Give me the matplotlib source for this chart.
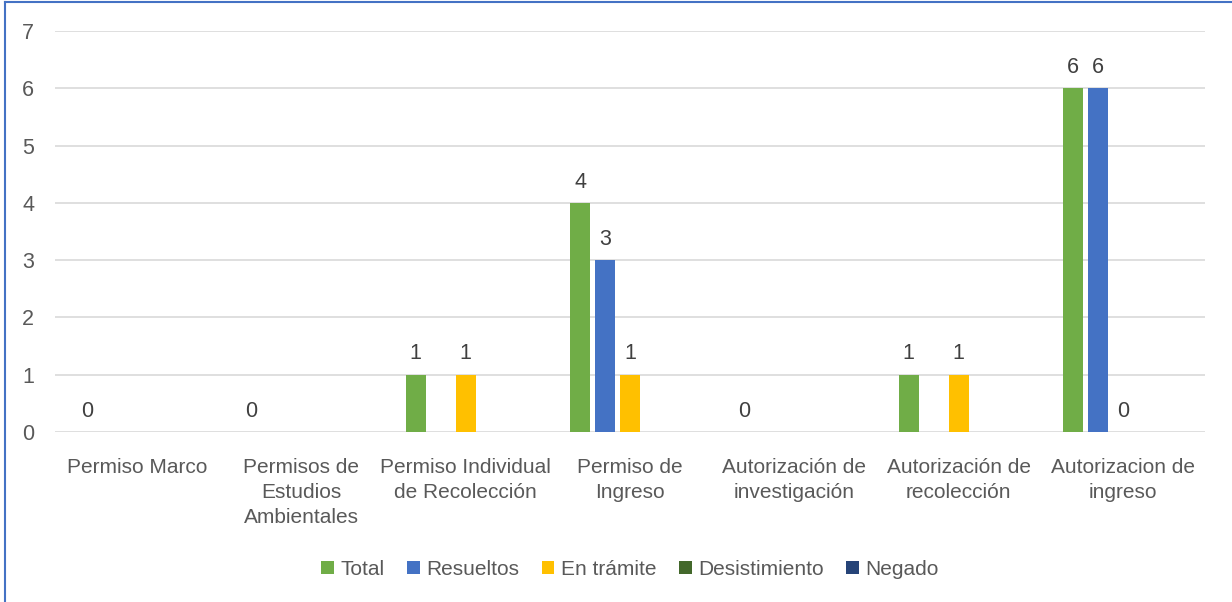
import numpy as np
import matplotlib.pyplot as plt
from matplotlib.lines import Line2D

plt.rcParams['font.family'] = ['Liberation Sans', 'DejaVu Sans']

categories = ["Permiso Marco", "Permisos de\nEstudios\nAmbientales",
              "Permiso Individual\nde Recolección", "Permiso de\nIngreso",
              "Autorización de\ninvestigación", "Autorización de\nrecolección",
              "Autorizacion de\ningreso"]
series_names = ["Total", "Resueltos", "En trámite", "Desistimiento", "Negado"]
nan = np.nan
total = [0, 0, 1, 4, 0, 1, 6]
resueltos = [nan, nan, nan, 3, nan, nan, 6]
en_tramite = [nan, nan, 1, 1, nan, 1, 0]
desistimiento = [nan] * 7
negado = [nan] * 7
colors = ["#70AD47", "#4472C4", "#FFC000", "#43682B", "#264478"]

series = [total, resueltos, en_tramite, desistimiento, negado]
text_col = "#595959"

fig = plt.figure(figsize=(12.32, 6.02), dpi=100)
ax = fig.add_axes([0.0446, 0.2824, 0.9335, 0.6661])

x = np.arange(len(categories))
slot = 0.152
width = 0.122
for i, (name, vals, c) in enumerate(zip(series_names, series, colors)):
    vals = np.array(vals, dtype=float)
    pos = x + (i - 2) * slot
    ax.bar(pos, np.nan_to_num(vals), width=width, color=c, label=name)
    for p, v in zip(pos, vals):
        if np.isfinite(v):
            ax.text(p, v + 0.18, f"{v:.0f}", ha="center", va="bottom",
                    fontsize=15.5, color="#404040")

ax.set_xlim(-0.5, len(categories) - 0.5)
ax.set_ylim(0, 7)
ax.set_yticks(range(8))
ax.set_xticks(x)
ax.set_xticklabels(categories, fontsize=15, color=text_col, linespacing=1.38)
ax.tick_params(axis="y", labelsize=15.5, labelcolor=text_col, length=0, pad=15)
ax.tick_params(axis="x", length=0, pad=19)
ax.grid(axis="y", color="#D9D9D9", linewidth=1.2)
ax.set_axisbelow(True)
for s in ax.spines.values():
    s.set_visible(False)

leg = ax.legend(loc="center", bbox_to_anchor=(0.5, -0.343), ncol=5, frameon=False,
                fontsize=15, handlelength=0.6, handleheight=0.6, handletextpad=0.3,
                columnspacing=1.1)
for t in leg.get_texts():
    t.set_color(text_col)

# chart border (only top and left edges visible in the crop)
fig.add_artist(Line2D([5 / 1232, 1], [1 - 2 / 602, 1 - 2 / 602],
                      color="#4472C4", linewidth=1.5, transform=fig.transFigure))
fig.add_artist(Line2D([5 / 1232, 5 / 1232], [0, 1 - 2 / 602],
                      color="#4472C4", linewidth=1.5, transform=fig.transFigure))

fig.savefig("out.png", dpi=100)
